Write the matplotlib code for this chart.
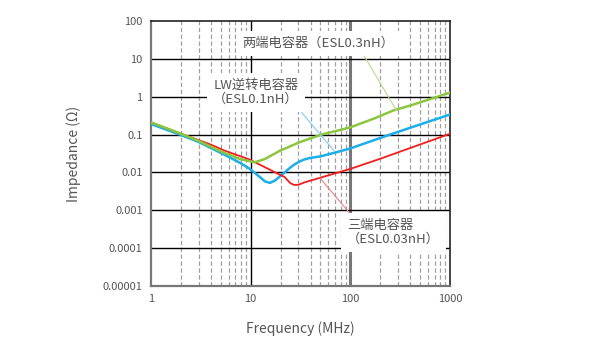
import matplotlib.pyplot as plt
import numpy as np

plt.rcParams['font.family'] = ['Noto Sans CJK JP', 'DejaVu Sans']

# 周波数 (MHz) とインピーダンス (Ω)
green_f = [1, 2, 3, 5, 7.8, 9.8, 11, 13.9, 19.7, 31, 51.5, 100, 176, 268, 412, 1000]
green_z = [0.21, 0.105, 0.068, 0.036, 0.0226, 0.0198, 0.0185, 0.0226, 0.0375, 0.063,
           0.1, 0.155, 0.27, 0.43, 0.6, 1.28]

blue_f = [1, 2, 3, 5.5, 7.8, 9.8, 12.4, 13.9, 15.6, 17.5, 19.7, 22, 25, 27.8, 31, 35, 39,
          50, 72, 100, 250, 1000]
blue_z = [0.19, 0.097, 0.064, 0.029, 0.018, 0.0124, 0.0075, 0.0058, 0.0053, 0.0061,
          0.0079, 0.0101, 0.0135, 0.0165, 0.0195, 0.0222, 0.024, 0.0265, 0.034, 0.043,
          0.1, 0.34]

red_f = [1, 2, 2.6, 4, 5.5, 9.8, 13.9, 17.5, 22, 24.8, 27, 30, 35, 49.6, 100, 200, 365, 1000]
red_z = [0.21, 0.105, 0.082, 0.054, 0.0375, 0.0218, 0.0137, 0.0101, 0.0075, 0.0053,
         0.0047, 0.0047, 0.0055, 0.0072, 0.0124, 0.023, 0.0406, 0.105]

y_ticks = [1e-5, 1e-4, 1e-3, 1e-2, 1e-1, 1, 10, 100]
y_labels = ['0.00001', '0.0001', '0.001', '0.01', '0.1', '1', '10', '100']
x_ticks = [1, 10, 100, 1000]
x_labels = ['1', '10', '100', '1000']

c_green = '#8cc63e'
c_blue = '#1aaeea'
c_red = '#f21d1d'
c_text = '#555555'

fig = plt.figure(figsize=(6, 3.5), dpi=100)
ax = fig.add_axes([0.2517, 0.1829, 0.4983, 0.7571])
ax.set_xscale('log')
ax.set_yscale('log')
ax.set_xlim(1, 1000)
ax.set_ylim(1e-5, 100)

# グリッド: 縦は補助目盛りを破線、横は主目盛りを実線
for dec in [1, 10, 100]:
    for m in range(2, 10):
        ax.axvline(dec * m, color='#a0a0a0', lw=0.9, ls=(0, (3.5, 2)), zorder=1)
ax.axvline(10, color='black', lw=1.0, zorder=1)
ax.axvline(100, color='#777777', lw=2.2, zorder=1)
for yt in y_ticks[1:-1]:
    ax.axhline(yt, color='black', lw=1.0, zorder=1)

ax.plot(blue_f, blue_z, color=c_blue, lw=1.8, zorder=3)
ax.plot(red_f, red_z, color=c_red, lw=1.3, zorder=3)
ax.plot(green_f, green_z, color=c_green, lw=1.8, zorder=3)

ax.set_xticks(x_ticks)
ax.set_xticklabels(x_labels)
ax.set_yticks(y_ticks)
ax.set_yticklabels(y_labels)
ax.minorticks_off()
ax.tick_params(length=0, labelsize=8, colors=c_text, pad=6)

for side in ['left', 'bottom']:
    ax.spines[side].set_color('#777777')
    ax.spines[side].set_linewidth(1.6)
for side in ['top', 'right']:
    ax.spines[side].set_color('#222222')
    ax.spines[side].set_linewidth(1.2)

ax.set_xlabel('Frequency (MHz)', fontsize=10, color=c_text, labelpad=12)
ax.set_ylabel('Impedance (Ω)', fontsize=10, color=c_text, labelpad=16)

box = dict(boxstyle='square,pad=0.45', fc='white', ec='none')

# 引き出し線付きの注記
ax.annotate('两端电容器（ESL0.3nH）', xy=(291, 0.427), xytext=(8.2, 25.8),
            fontsize=9.5, color=c_text, ha='left', va='center', bbox=box, zorder=4,
            arrowprops=dict(arrowstyle='-', color='#b5dc8a', lw=0.8,
                            shrinkA=0, shrinkB=0, relpos=(0.78, 0.0)))
ax.annotate('LW逆转电容器\n（ESL0.1nH）', xy=(68.5, 0.0376), xytext=(4.2, 1.3),
            fontsize=9.5, color=c_text, ha='left', va='center', bbox=box, zorder=4,
            linespacing=1.15,
            arrowprops=dict(arrowstyle='-', color='#7fcdf0', lw=0.8,
                            shrinkA=0, shrinkB=0, relpos=(0.93, 0.15)))
ax.annotate('三端电容器\n（ESL0.03nH）', xy=(49.5, 0.00716), xytext=(92.5, 0.00026),
            fontsize=9.5, color=c_text, ha='left', va='center', bbox=box, zorder=4,
            linespacing=1.15,
            arrowprops=dict(arrowstyle='-', color='#f08080', lw=0.8,
                            shrinkA=0, shrinkB=0, relpos=(0.08, 1.0)))

fig.savefig('out.png', dpi=100)
